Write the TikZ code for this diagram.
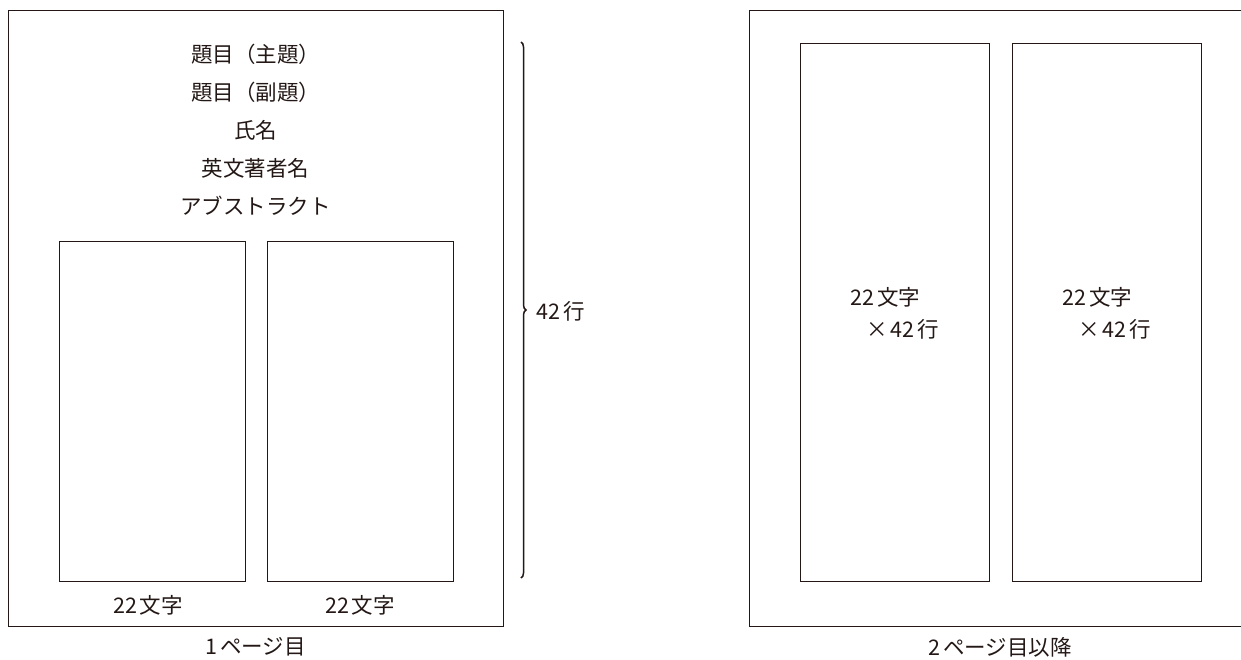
\documentclass[tikz,border=0pt]{standalone}
\usepackage{fontspec}
\setmainfont{Noto Sans CJK JP}
\usetikzlibrary{decorations.pathreplacing}
\definecolor{ink}{HTML}{231815}
\tikzset{
  frame/.style={draw=ink, line width=0.9pt, anchor=north west, inner sep=0pt, outer sep=0pt},
  lbl/.style={text=ink, inner sep=0pt, font=\fontsize{21.5}{24}\selectfont},
}
\begin{document}
\begin{tikzpicture}[x=1pt,y=-1pt]
\useasboundingbox (0,0) rectangle (1241,659);
\clip (0,0) rectangle (1241,659);
% page 1
\node[frame, minimum width=495pt, minimum height=616pt] (p1) at (8,10) {};
\node[frame, minimum width=186pt, minimum height=340pt] (c1) at (59,241) {};
\node[frame, minimum width=186pt, minimum height=340pt] (c2) at (267,241) {};
\node[lbl] (t1) at (255.5,54) {題目（主題）};
\node[lbl] (t2) at (255.5,92) {題目（副題）};
\node[lbl] (t3) at (255.5,130) {氏名};
\node[lbl] (t4) at (255.5,168) {英文著者名};
\node[lbl] (t5) at (255.5,206) {アブストラクト};
\node[lbl] (w1) at (148,605) {22\hspace{3pt}文字};
\node[lbl] (w2) at (360,605) {22\hspace{3pt}文字};
\node[lbl] (cap1) at (255.5,647) {1\hspace{3pt}ページ目};
% brace
\coordinate (bt) at (521,42);
\coordinate (bb) at (521,578);
\draw[ink, line width=1.5pt, decorate, decoration={brace, amplitude=5pt}] (bt) -- (bb);
\node[lbl, anchor=west] (rows) at (536,311) {42\hspace{3pt}行};
% page 2
\node[frame, minimum width=495pt, minimum height=616pt] (p2) at (749,10) {};
\node[frame, minimum width=189pt, minimum height=538pt] (c3) at (800,43) {};
\node[frame, minimum width=189pt, minimum height=538pt] (c4) at (1012,43) {};
\node[lbl, anchor=west] (a1) at (850,297) {22\hspace{3pt}文字};
\node[lbl, anchor=west] (b1) at (866,329) {×\hspace{3pt}42\hspace{3pt}行};
\node[lbl, anchor=west] (a2) at (1062,297) {22\hspace{3pt}文字};
\node[lbl, anchor=west] (b2) at (1078,329) {×\hspace{3pt}42\hspace{3pt}行};
\node[lbl] (cap2) at (1000,647) {2\hspace{3pt}ページ目以降};
\end{tikzpicture}
\end{document}
